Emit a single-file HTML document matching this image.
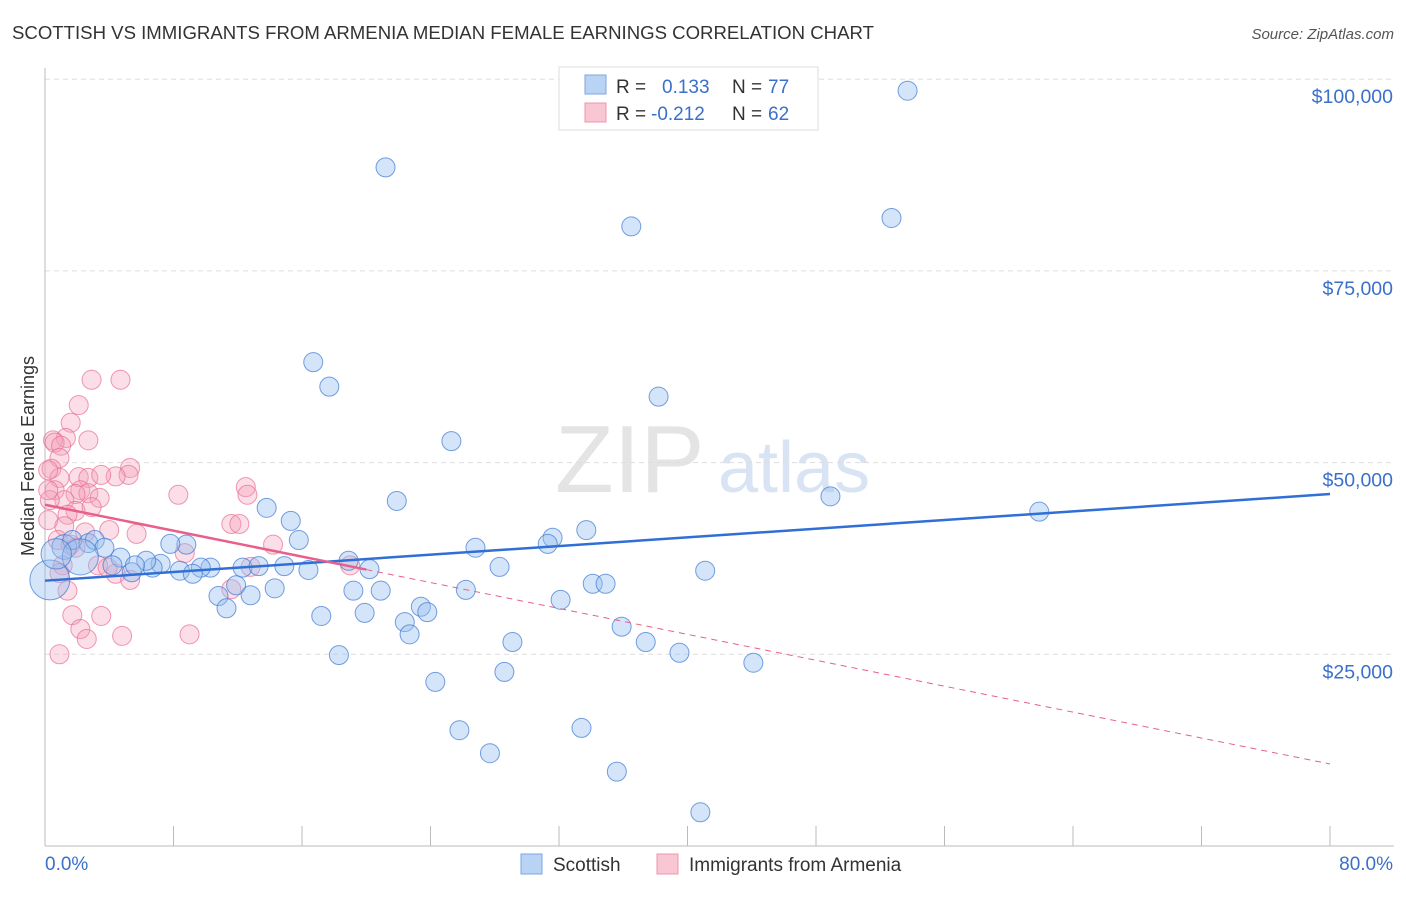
<!DOCTYPE html>
<html><head><meta charset="utf-8"><style>
body{margin:0;background:#fff;font-family:"Liberation Sans",sans-serif;}
svg text{font-family:"Liberation Sans",sans-serif;}
</style></head><body>
<svg width="1406" height="892" viewBox="0 0 1406 892" id="chart">
<text x="12" y="39" font-size="18.6" fill="#333">SCOTTISH VS IMMIGRANTS FROM ARMENIA MEDIAN FEMALE EARNINGS CORRELATION CHART</text>
<text x="1394" y="39" font-size="15" fill="#555" font-style="italic" text-anchor="end">Source: ZipAtlas.com</text>
<text x="555" y="492" font-size="96" fill="#e4e4e4" font-family="Liberation Serif">ZIP</text>
<text x="718" y="492" font-size="72" fill="#d8e4f4">atlas</text>
<text transform="translate(34,456) rotate(-90)" font-size="18" fill="#333" text-anchor="middle">Median Female Earnings</text>
<g id="grid"></g><g id="axes"></g><g id="pts"></g><g id="trends"></g>
<g>
<rect x="559" y="67" width="259" height="63" fill="#fff" stroke="#ddd"/>
<rect x="585" y="75" width="21" height="19" fill="#b9d3f5" stroke="#7ea6e0"/>
<rect x="585" y="103" width="21" height="19" fill="#f9c6d4" stroke="#ec95ae"/>
<text x="616" y="93" font-size="19" fill="#333">R =</text><text x="662" y="93" font-size="19" fill="#3a70c9">0.133</text>
<text x="732" y="93" font-size="19" fill="#333">N =</text><text x="768" y="93" font-size="19" fill="#3a70c9">77</text>
<text x="616" y="120" font-size="19" fill="#333">R =</text><text x="651" y="120" font-size="19" fill="#3a70c9">-0.212</text>
<text x="732" y="120" font-size="19" fill="#333">N =</text><text x="768" y="120" font-size="19" fill="#3a70c9">62</text>
</g>
<g>
<rect x="521" y="854" width="21" height="20" fill="#b9d3f5" stroke="#7ea6e0"/>
<text x="553" y="871" font-size="19" fill="#333">Scottish</text>
<rect x="657" y="854" width="21" height="20" fill="#f9c6d4" stroke="#ec95ae"/>
<text x="689" y="871" font-size="19" fill="#333">Immigrants from Armenia</text>
</g>
</svg>
<script>
const yTicks=[25000,50000,75000,100000];
const yTickLabels=["$25,000","$50,000","$75,000","$100,000"];
const xTicks=[0,8,16,24,32,40,48,56,64,72,80];
const scotX=[53.7,21.2,36.5,52.7,16.7,17.7,38.2,25.3,48.9,21.9,61.9,13.8,15.3,33.7,31.6,31.3,15.8,8.8,7.8,26.8,28.3,41.1,18.9,20.2,12.3,13.3,14.9,16.4,10.3,9.7,8.4,9.2,7.2,6.7,6.3,4.7,4.2,5.4,11.9,14.3,10.8,12.8,19.2,20.9,26.2,34.1,34.9,32.1,23.4,23.8,11.3,17.2,19.9,22.4,22.7,35.9,37.4,29.1,39.5,18.3,44.1,28.6,24.3,25.8,33.4,27.7,35.6,40.8,0.3,1.2,1.7,2.7,3.1,3.7,2.2,0.7,5.6];
const scotY=[98.5,88.5,80.8,81.9,63.1,59.9,58.6,52.8,45.6,45.0,43.6,44.1,42.4,41.2,40.2,39.4,39.9,39.3,39.4,38.9,36.4,35.9,37.2,36.1,36.3,36.5,36.5,36.0,36.3,36.3,35.9,35.5,36.8,36.3,37.2,37.6,36.6,35.7,34.0,33.6,32.6,32.7,33.3,33.3,33.4,34.2,34.2,32.1,31.2,30.5,31.0,30.0,30.4,29.2,27.6,28.6,26.6,26.6,25.2,24.9,23.9,22.7,21.4,15.1,15.4,12.1,9.7,4.4,34.7,39.0,39.9,39.5,39.9,38.9,37.7,38.1,36.6];
const scotSize=[];scotY.forEach(()=>scotSize.push(1));scotSize[68]=2.1;scotSize[74]=1.9;scotSize[75]=1.6;scotSize[69]=1.3;
const armX=[2.9,4.7,2.1,1.6,1.3,0.5,0.6,1.0,2.7,0.9,0.4,0.9,2.1,2.7,5.3,5.2,4.4,0.6,2.2,2.7,3.5,1.9,1.2,1.9,8.3,12.5,12.6,3.4,2.9,1.4,1.2,2.5,4.0,5.7,11.6,12.1,0.8,1.6,14.2,8.7,1.1,3.3,4.4,5.3,3.9,0.9,1.4,11.6,12.8,19.0,1.7,3.5,2.2,2.6,4.8,9.0,0.9,0.2,0.3,0.2,1.9,0.2];
const armY=[60.8,60.8,57.5,55.2,53.2,52.9,52.6,52.2,52.9,50.6,49.2,48.0,48.1,48.0,49.3,48.4,48.2,46.4,46.4,46.0,48.4,45.9,45.1,43.7,45.8,46.8,45.8,45.4,44.2,43.2,41.7,40.9,41.2,40.7,42.0,42.0,39.9,39.3,39.3,38.2,36.6,36.6,35.5,34.7,36.3,35.6,33.3,33.5,36.4,36.6,30.1,30.0,28.3,27.0,27.4,27.6,25.0,49.0,45.1,42.5,38.9,46.4];
const scotTrend=[34.6,45.9];
const armTrend=[44.5,10.7];
const armSolidEnd=20;
const NS="http://www.w3.org/2000/svg";
const X0=45,X1=1330,Y0=846,Ypk=191.7/25;
const sx=v=>X0+(v/80)*(X1-X0);
const sy=v=>Y0-v*Ypk;
function mk(tag,attrs,parent){const e=document.createElementNS(NS,tag);for(const k in attrs)e.setAttribute(k,attrs[k]);document.getElementById(parent).appendChild(e);return e;}
mk('line',{x1:45,y1:68,x2:45,y2:846,stroke:'#bbb'},'axes');
mk('line',{x1:45,y1:846,x2:1394,y2:846,stroke:'#bbb'},'axes');
yTicks.forEach((t,i)=>{
 const g=mk('line',{x1:45,x2:1394,y1:sy(t/1000),y2:sy(t/1000),stroke:'#ddd','stroke-dasharray':'5,4'},'grid');
 
 
 const tx=mk('text',{x:1393,y:sy(t/1000)+24,'font-size':19.5,fill:'#3a70c9','text-anchor':'end'},'axes');
 tx.textContent=yTickLabels[i];
 
 
});
xTicks.forEach(t=>{
 const l=mk('line',{x1:sx(t),x2:sx(t),y1:826,y2:846,stroke:'#bbb'},'axes');
 
 
});
const xl0=mk('text',{x:45,y:870,'font-size':19,fill:'#3a70c9'},'axes');xl0.textContent='0.0%';


const xl1=mk('text',{x:1393,y:870,'font-size':19,fill:'#3a70c9','text-anchor':'end'},'axes');xl1.textContent='80.0%';


armX.forEach((x,i)=>{
 const c=mk('circle',{cx:sx(x),cy:sy(armY[i]),r:9.5,fill:'rgba(244,160,185,0.35)',stroke:'rgba(232,110,145,0.7)','stroke-width':1},'pts');
 
 
});
scotX.forEach((x,i)=>{
 const c=mk('circle',{cx:sx(x),cy:sy(scotY[i]),r:9.5*scotSize[i],fill:'rgba(150,190,240,0.4)',stroke:'rgba(60,120,210,0.7)','stroke-width':1},'pts');
 
 
});
const bt=mk('line',{x1:sx(0),y1:sy(scotTrend[0]),x2:sx(80),y2:sy(scotTrend[1]),stroke:'#2f6fd6','stroke-width':2.5},'trends');


const ay=x=>armTrend[0]+(armTrend[1]-armTrend[0])*x/80;
const pt=mk('line',{x1:sx(0),y1:sy(ay(0)),x2:sx(armSolidEnd),y2:sy(ay(armSolidEnd)),stroke:'#e8608a','stroke-width':2.5},'trends');


const pd=mk('line',{x1:sx(armSolidEnd),y1:sy(ay(armSolidEnd)),x2:sx(80),y2:sy(ay(80)),stroke:'#e8608a','stroke-width':1,'stroke-dasharray':'6,5'},'trends');


</script>
</body></html>
